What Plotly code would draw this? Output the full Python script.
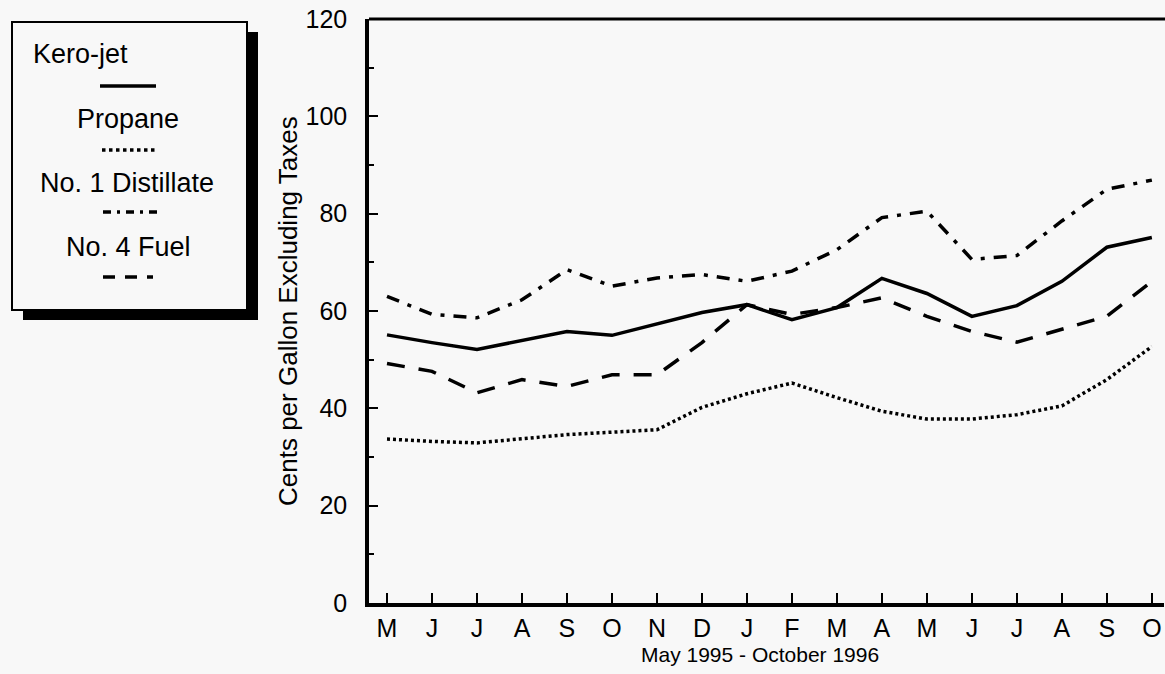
import plotly.graph_objects as go

months = ["M", "J", "J", "A", "S", "O", "N", "D", "J", "F", "M", "A", "M", "J", "J", "A", "S", "O"]
kero_jet = [55.1, 53.5, 52.1, 54.0, 55.8, 55.0, 57.3, 59.7, 61.3, 58.2, 60.7, 66.7, 63.6, 58.9, 61.1, 66.1, 73.1, 75.1]
propane = [33.7, 33.2, 32.9, 33.8, 34.6, 35.1, 35.6, 40.2, 43.0, 45.2, 42.2, 39.4, 37.8, 37.8, 38.7, 40.5, 45.9, 52.7]
no1_distillate = [63.0, 59.3, 58.6, 62.3, 68.5, 65.1, 66.8, 67.5, 66.1, 68.2, 72.6, 79.2, 80.5, 70.6, 71.4, 78.5, 85.0, 86.9]
no4_fuel = [49.2, 47.6, 43.2, 45.9, 44.5, 46.9, 46.9, 53.5, 61.3, 59.3, 60.7, 62.7, 58.9, 55.8, 53.6, 56.2, 58.9, 66.1]

x_title = "May 1995 - October 1996"
y_title = "Cents per Gallon Excluding Taxes"

W, H = 1165, 674
ML, MR, MT, MB = 369, 1, 19, 71
PW, PH = W - ML - MR, H - MT - MB
FONT = "Liberation Sans, Arial, sans-serif"
BG = "#f8f8f8"


def px(x):
    return (x - ML) / PW


def py(y):
    return (H - MB - y) / PH


xi = list(range(len(months)))
series = [
    ("Kero-jet", kero_jet, "solid"),
    ("Propane", propane, "3px,3px"),
    ("No. 1 Distillate", no1_distillate, "13px,9px,4px,9px"),
    ("No. 4 Fuel", no4_fuel, "18px,14px"),
]

fig = go.Figure()
for name, vals, dash in series:
    fig.add_trace(go.Scatter(x=xi, y=vals, mode="lines", name=name,
                             line=dict(color="black", width=3.5, dash=dash),
                             showlegend=False))

shapes = []
# top border of plot
shapes.append(dict(type="line", xref="paper", yref="paper", x0=0, x1=px(W + 2), y0=1, y1=1,
                   line=dict(color="black", width=3)))
# legend box shadow
shapes.append(dict(type="rect", xref="paper", yref="paper", x0=px(23), x1=px(258), y0=py(320), y1=py(32),
                   fillcolor="black", line=dict(width=0), layer="above"))
# legend box
shapes.append(dict(type="rect", xref="paper", yref="paper", x0=px(12), x1=px(247), y0=py(310), y1=py(22),
                   fillcolor=BG, line=dict(color="black", width=2), layer="above"))

annotations = []
leg_text = [("Kero-jet", 31, 54, "left"), ("Propane", 128, 119, "center"),
            ("No. 1 Distillate", 127, 183, "center"), ("No. 4 Fuel", 128, 247, "center")]
leg_lines = [(100, 156, 86, "solid"), (102, 157, 150, "dot"), (103, 157, 212, "8px,6px,3px,6px"),
             (103, 153, 277, "12px,10px")]
for (t, x, y, al), (x0, x1, ly, dash) in zip(leg_text, leg_lines):
    annotations.append(dict(text=t, xref="paper", yref="paper", x=px(x), y=py(y),
                            xanchor=al, yanchor="middle", showarrow=False,
                            font=dict(family=FONT, size=27, color="black")))
    shapes.append(dict(type="line", xref="paper", yref="paper", x0=px(x0), x1=px(x1), y0=py(ly), y1=py(ly),
                       line=dict(color="black", width=3.5, dash=dash), layer="above"))

annotations.append(dict(text=x_title, xref="paper", yref="paper", x=px(760), y=py(654),
                        xanchor="center", yanchor="middle", showarrow=False,
                        font=dict(family=FONT, size=21, color="black")))
annotations.append(dict(text=y_title, xref="paper", yref="paper", x=px(288), y=py(311),
                        xanchor="center", yanchor="middle", showarrow=False, textangle=-90,
                        font=dict(family=FONT, size=26, color="black")))

fig.update_layout(
    width=W, height=H,
    margin=dict(l=ML, r=MR, t=MT, b=MB),
    paper_bgcolor=BG, plot_bgcolor=BG,
    shapes=shapes, annotations=annotations,
    showlegend=False,
    xaxis=dict(range=[-0.4, 17.27], tickmode="array", tickvals=xi, ticktext=months,
               ticks="inside", ticklen=10, tickwidth=1.5, tickcolor="black",
               showline=True, linecolor="black", linewidth=3.5, showgrid=False, zeroline=False,
               tickfont=dict(family=FONT, size=25, color="black")),
    yaxis=dict(range=[0, 120], tickmode="array", tickvals=[0, 20, 40, 60, 80, 100, 120],
               ticks="inside", ticklen=9, tickwidth=1.5, tickcolor="black",
               minor=dict(tickvals=[10, 30, 50, 70, 90, 110], ticks="inside", ticklen=5,
                          tickwidth=1.5, tickcolor="black", showgrid=False),
               showline=True, linecolor="black", linewidth=3.5, showgrid=False, zeroline=False,
               ticklabelstandoff=13,
               tickfont=dict(family=FONT, size=25, color="black")),
)

fig.write_html("out.html", config={"displayModeBar": False},
               post_script="document.body.style.margin='0';")
